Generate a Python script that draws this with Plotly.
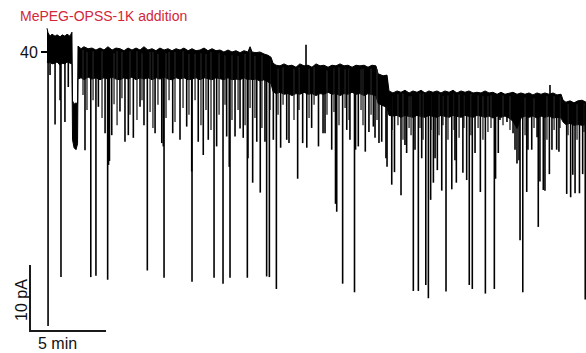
import plotly.graph_objects as go

# Current envelope of the dense open-channel band: time (min), upper edge (pA), lower edge (pA)
env_t = [0.00, 0.07, 0.20, 0.33, 0.53, 0.66, 0.86, 0.99, 1.18, 1.32, 1.51, 1.64,
         1.68, 1.78, 1.91, 2.01, 2.04,
         2.24, 2.43, 2.70, 2.96, 3.22, 3.49, 3.75, 4.01, 4.28, 4.54, 4.80, 5.07, 5.33, 5.59,
         5.86, 6.12, 6.38, 6.64, 6.91, 7.17, 7.43, 7.70, 7.96, 8.22, 8.49, 8.75, 9.01, 9.28,
         9.54, 9.80, 10.07, 10.33, 10.59, 10.86, 11.12, 11.38, 11.64, 11.91, 12.17, 12.43,
         12.70, 12.96, 13.22, 13.36, 13.49, 13.75, 14.01, 14.28, 14.54, 14.74, 14.87,
         15.07, 15.33, 15.59, 15.86, 16.12, 16.38, 16.64, 16.91, 17.17, 17.43, 17.70, 17.96,
         18.22, 18.49, 18.75, 19.01, 19.28, 19.54, 19.80, 20.07, 20.33, 20.59, 20.86, 21.12,
         21.38, 21.64, 21.78, 22.11, 22.37, 22.50,
         22.76, 23.03, 23.29, 23.55, 23.82, 24.08, 24.34, 24.61, 24.87, 25.13, 25.39, 25.66,
         25.92, 26.18, 26.45, 26.71, 26.97, 27.24, 27.50, 27.76, 28.03, 28.29, 28.55, 28.82,
         29.08, 29.34, 29.61, 29.87, 30.13, 30.39, 30.66, 30.92, 31.18, 31.45, 31.71, 31.97,
         32.24, 32.50, 32.76, 33.03, 33.29, 33.55, 33.82, 33.95,
         34.14, 34.41, 34.67, 34.93, 35.20, 35.46]
env_top = [43.6, 42.9, 42.4, 42.7, 42.4, 42.6, 42.3, 42.6, 42.4, 42.7, 42.4, 43.0,
           32.6, 32.1, 32.3, 32.1, 40.9,
           40.5, 40.8, 40.5, 40.6, 40.3, 40.6, 40.3, 40.8, 40.3, 40.6, 40.5, 40.2, 40.6, 40.3,
           40.6, 40.3, 40.8, 40.3, 40.5, 40.2, 40.6, 40.3, 40.5, 40.2, 40.5, 40.3, 40.6, 40.2,
           40.5, 40.2, 40.3, 40.6, 40.2, 40.5, 40.2, 40.3, 40.0, 40.3, 40.0, 40.2,
           39.9, 40.2, 40.0, 40.8, 40.0, 39.9, 40.0, 39.7, 39.5, 39.2, 38.3,
           38.0, 37.9, 38.2, 37.9, 38.0, 37.7, 38.2, 37.9, 38.0, 37.7, 38.2, 37.9,
           38.0, 37.7, 38.0, 37.9, 38.2, 37.9, 38.0, 37.7, 38.0, 37.9, 38.0, 37.7,
           38.0, 37.9, 36.7, 36.4, 36.5, 34.1,
           33.8, 34.1, 33.9, 34.2, 33.8, 34.1, 33.9, 34.2, 33.8, 34.1, 33.9, 34.1,
           33.8, 34.1, 33.9, 34.2, 33.8, 34.1, 33.9, 34.1, 33.8, 33.9, 33.8, 34.1,
           33.8, 33.9, 33.6, 33.9, 33.6, 33.8, 33.9, 33.6, 33.8, 33.6, 33.8, 33.5,
           33.8, 33.6, 33.8, 33.6, 33.8, 33.5, 33.6, 32.7,
           32.4, 32.6, 32.3, 32.6, 32.7, 32.4]
env_bot = [38.5, 38.3, 38.5, 38.2, 38.3, 38.5, 38.0, 38.3, 38.2, 38.5, 38.3, 38.2,
           26.7, 25.5, 25.2, 26.1, 35.9,
           36.1, 35.8, 36.2, 35.9, 36.1, 35.8, 36.1, 35.9, 36.2, 35.9, 35.8, 36.1, 35.9, 36.2,
           35.8, 36.1, 35.9, 36.1, 35.8, 36.1, 35.9, 36.2, 35.9, 35.8, 36.1, 35.9, 36.1, 35.8,
           35.9, 36.1, 35.8, 36.1, 35.9, 35.8, 36.1, 35.9, 35.8, 36.1, 35.8, 35.9,
           35.8, 36.1, 35.8, 35.9, 35.8, 35.9, 35.6, 35.8, 35.5, 35.2, 34.0,
           33.7, 33.9, 33.6, 33.7, 33.4, 33.7, 33.6, 33.9, 33.6, 33.7, 33.4, 33.7,
           33.6, 33.9, 33.6, 33.7, 33.4, 33.7, 33.6, 33.9, 33.6, 33.7, 33.4, 33.7,
           33.6, 33.4, 32.2, 31.9, 31.6, 30.4,
           30.3, 30.4, 30.1, 30.4, 30.3, 30.1, 30.4, 30.3, 30.1, 30.4, 30.3, 30.1,
           30.4, 30.3, 30.1, 30.4, 30.3, 30.1, 30.4, 30.3, 30.1, 30.4, 30.3, 30.1,
           30.3, 30.0, 30.3, 30.1, 30.3, 30.0, 29.5, 28.4, 30.0, 30.3, 30.1, 30.3,
           30.0, 30.3, 30.1, 30.3, 30.0, 30.1, 30.0, 29.4,
           29.0, 29.2, 28.9, 29.0, 28.9, 29.0]

# Closing events: time (min) and lowest current reached (pA)
spike_t = [0.07, 0.20, 0.53, 0.86, 0.92, 1.18, 1.40,
           2.50, 2.88, 3.22, 3.38, 3.82, 3.99, 4.05, 4.11, 4.26, 4.80, 5.13, 5.35, 5.68,
           6.12, 6.38, 6.60, 7.11, 7.55, 7.65, 7.70, 8.27, 8.75, 9.19, 9.52, 9.54, 9.95,
           10.28, 10.61, 10.99, 11.16, 11.58, 11.82, 11.99, 12.04, 12.37, 12.70, 12.91,
           13.18, 13.22, 13.53, 13.80, 14.03, 14.34, 14.45, 14.63, 14.89, 15.09, 15.37,
           15.77, 15.92, 16.49,
           16.82, 17.09, 17.41, 17.86, 18.16, 18.29, 18.73, 18.98, 19.06, 19.45, 19.72,
           19.93, 20.23, 20.30, 20.48, 20.94, 21.18, 21.47, 21.58, 21.84, 22.02, 22.30,
           22.37, 22.68, 22.86, 23.29, 23.55, 23.66, 24.10, 24.21, 24.43, 24.65, 24.92,
           25.09, 25.24, 25.42, 25.53, 25.68, 25.97, 26.25, 26.63, 26.84, 26.93, 27.36,
           27.61, 27.78, 27.98, 28.16, 28.51, 28.84, 29.43, 29.51, 29.69, 29.80, 30.26,
           30.66, 30.79, 30.92, 31.05, 31.12, 31.30, 31.56, 31.64, 31.89, 32.24, 32.32,
           32.43, 32.65, 32.76, 33.05, 33.22, 33.53, 33.68, 34.19, 34.45, 34.59, 34.74,
           35.03, 35.24, 35.41]
spike_pa = [-1.5, 36.5, 29.0, 32.7, 5.9, 29.4, 34.7,
            25.1, 5.9, 6.1, 31.7, 27.7, 5.5, 22.9, 23.5, 27.4, 31.0, 26.4, 27.4, 27.0,
            31.7, 28.9, 6.9, 27.7, 26.2, 25.7, 5.8, 27.7, 26.7, 28.7, 21.9, 5.2, 26.4,
            24.4, 26.7, 5.8, 25.7, 4.9, 27.2, 22.6, 5.8, 27.2, 28.4, 27.0,
            5.8, 23.9, 20.2, 26.4, 18.7, 26.4, 6.0, 5.9, 26.7, 4.1, 25.5,
            26.7, 26.2, 20.8,
            26.2, 25.5, 28.5, 25.7, 27.7, 27.7, 25.2, 17.0, 15.8, 4.9, 28.2,
            26.7, 3.6, 25.2, 25.7, 24.9, 27.9, 28.7, 27.0, 26.2, 26.4, 23.9,
            22.6, 19.9, 21.8, 18.3, 25.9, 24.7, 3.8, 25.2, 3.8, 23.9, 4.7,
            2.7, 17.6, 20.2, 23.9, 22.1, 19.0, 3.7, 19.2, 23.6, 20.2, 21.7,
            20.6, 4.7, 4.1, 24.7, 18.8, 3.4, 4.1, 20.8, 24.7, 29.7, 29.4,
            27.7, 25.2, 23.1, 23.6, 11.5, 3.6, 18.8, 25.2, 25.2, 27.1, 13.5,
            20.4, 19.1, 19.0, 21.5, 25.2, 25.2, 24.9, 18.5, 18.0, 21.4, 18.6,
            18.6, 21.5, 2.5]

# Short partial closures just below the band: time (min), lowest current (pA)
short_t = [2.37, 2.63, 3.03, 3.62, 4.41, 4.61, 4.93, 5.46, 5.92, 6.25, 6.78, 6.97,
           7.30, 7.83, 8.03, 8.42, 8.95, 9.34, 9.74, 10.13, 10.46, 10.79, 11.32, 11.71,
           12.17, 12.57, 13.03, 13.36, 13.68, 14.14, 14.67,
           15.20, 15.53, 16.25, 16.58, 17.24, 17.57, 18.42, 18.88, 19.21, 19.61, 19.87,
           20.66, 20.79, 21.32, 21.71,
           22.70, 23.09, 23.42, 23.82, 23.95, 24.54, 24.74, 25.26, 25.79, 26.05, 26.38,
           26.78, 27.11, 27.43, 27.89, 28.36, 28.68, 29.01, 29.21, 30.00, 30.46, 31.45,
           32.04, 32.89, 33.36, 33.75, 34.28, 34.87, 35.33]
short_pa = [33.5, 31.2, 32.7, 30.0, 32.1, 28.9, 33.0, 30.5, 29.7, 32.7, 30.9, 28.5,
            32.0, 30.0, 32.7, 29.4, 31.5, 30.5, 32.7, 28.9, 31.2, 28.2, 30.5, 32.0,
            29.7, 31.2, 28.9, 31.5, 30.0, 28.5, 31.2,
            30.5, 32.0, 29.7, 31.2, 30.0, 32.0, 30.5, 30.9, 28.9, 31.5, 29.7,
            31.2, 28.9, 30.5, 29.7,
            28.2, 28.9, 26.7, 28.5, 27.4, 28.5, 26.7, 28.2, 27.4, 28.9, 26.7,
            28.2, 27.0, 28.5, 27.4, 28.5, 26.7, 27.9, 28.5, 28.9, 28.2, 27.4,
            28.5, 26.7, 28.2, 28.5, 27.4, 26.7, 27.9]

# Brief upward excursions above the band
up_t = [17.04, 33.09]
up_pa = [41.1, 35.0]

# Scale bars (pA, min)
bar_origin_t = -1.118
bar_origin_pa = -2.27
bar_pa = 10
bar_min = 5

FONT = "Liberation Sans, Arial, sans-serif"


def nearest(ts, t):
    return min(range(len(ts)), key=lambda i: abs(ts[i] - t))


def strokes(times, values, from_top=True):
    xs, ys = [], []
    for t, v in zip(times, values):
        i = nearest(env_t, t)
        start = env_top[i] - 0.5 if from_top else env_bot[i]
        xs += [t, t, None]
        ys += [start, v, None]
    return xs, ys


fig = go.Figure()

# open-channel band as a filled outline
poly_t = env_t + env_t[::-1]
poly_y = env_top + env_bot[::-1]
fig.add_trace(go.Scatter(x=poly_t, y=poly_y, mode="lines", fill="toself",
                         fillcolor="black", line=dict(color="black", width=1),
                         hoverinfo="skip"))

# short partial closures (slightly thinner strokes)
sx, sy = strokes(short_t, short_pa)
fig.add_trace(go.Scatter(x=sx, y=sy, mode="lines",
                         line=dict(color="#222", width=1.3), hoverinfo="skip"))

# closing events drawn as vertical strokes from the band
sx, sy = strokes(spike_t, spike_pa)
ux, uy = strokes(up_t, up_pa, from_top=False)
fig.add_trace(go.Scatter(x=sx + ux, y=sy + uy, mode="lines",
                         line=dict(color="black", width=1.6), hoverinfo="skip"))

# scale bars
fig.add_trace(go.Scatter(
    x=[bar_origin_t, bar_origin_t, bar_origin_t + bar_min],
    y=[bar_origin_pa + bar_pa, bar_origin_pa, bar_origin_pa],
    mode="lines", line=dict(color="#1a1a1a", width=2), hoverinfo="skip"))

fig.add_annotation(x=bar_origin_t - 0.6, y=bar_origin_pa + bar_pa / 2 - 0.3,
                   xref="x", yref="y", text="10 pA", textangle=-90,
                   showarrow=False, font=dict(family=FONT, size=16, color="#111"))
fig.add_annotation(x=bar_origin_t + 0.4, y=bar_origin_pa - 1.9, xref="x", yref="y",
                   text="5 min", xanchor="left", showarrow=False,
                   font=dict(family=FONT, size=16, color="#111"))

fig.add_annotation(x=18 / 586, y=1 - 16 / 353, xref="paper", yref="paper",
                   text="MePEG-OPSS-1K addition", xanchor="left", yanchor="middle",
                   showarrow=False, font=dict(family=FONT, size=14, color="#d3263a"))

fig.update_layout(
    width=586, height=353,
    margin=dict(l=0, r=0, t=0, b=0),
    paper_bgcolor="white", plot_bgcolor="white",
    showlegend=False, hovermode=False,
    xaxis=dict(visible=False, range=[-3.092, 35.46], domain=[0, 1]),
    yaxis=dict(range=[-5.60, 47.88], anchor="free", position=47 / 586,
               tickvals=[40], ticktext=["40"], ticks="outside", ticklen=6,
               tickwidth=1.5, tickcolor="black", showline=False, showgrid=False,
               zeroline=False, tickfont=dict(family=FONT, size=16, color="#111")),
)

fig.write_html("out.html")
